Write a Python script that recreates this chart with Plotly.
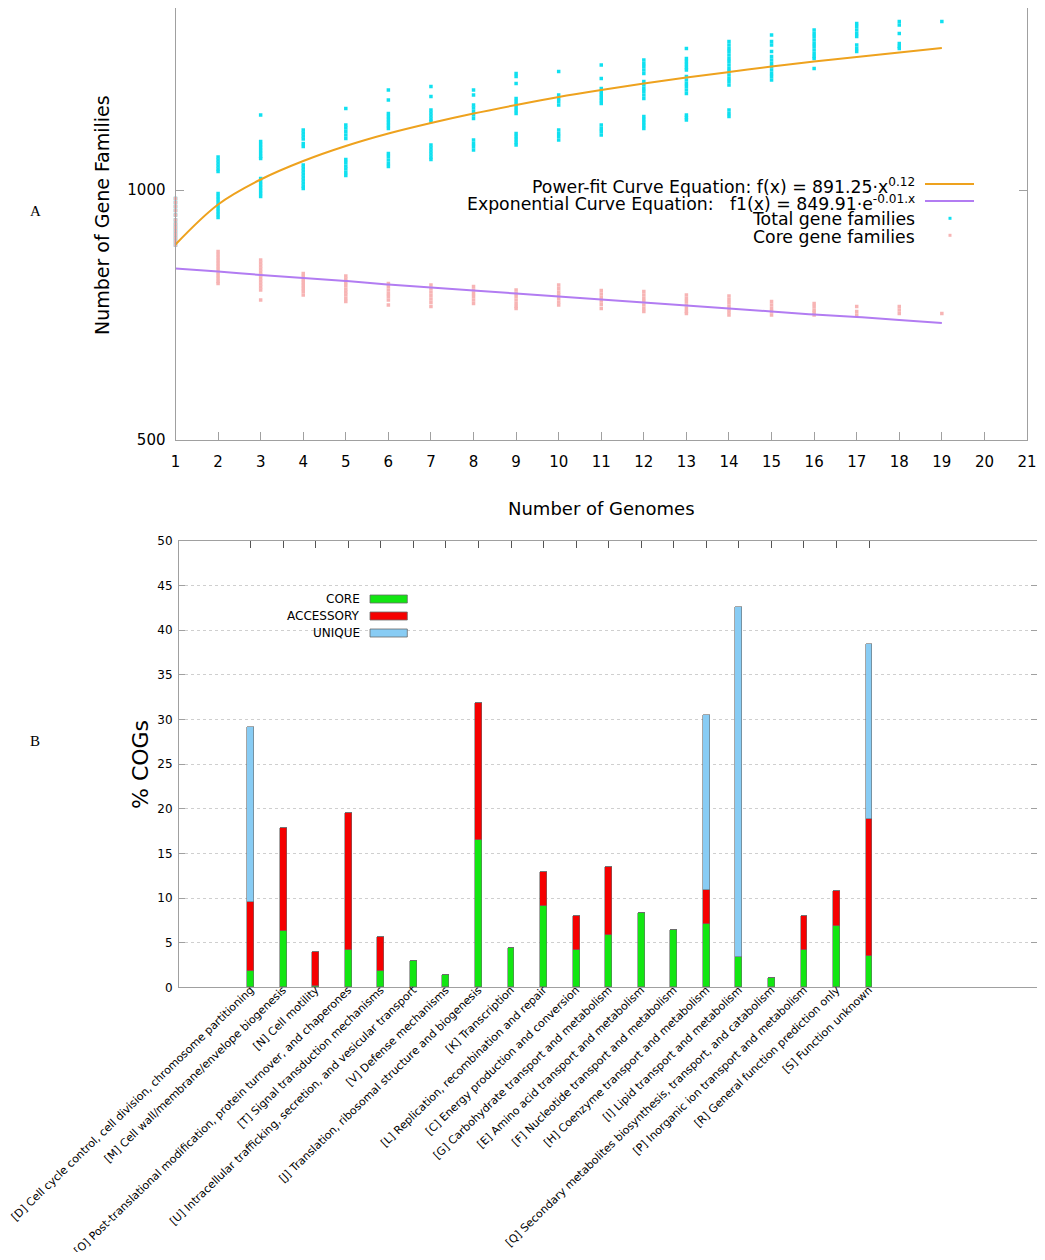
import plotly.graph_objects as go

# ---- panel A: pan-genome curves ----
genomes = list(range(1, 20))

total_families = [
    [983, 975, 967, 959, 950, 940, 932, 925, 918, 911, 904, 897, 890],
    [1066, 1060, 1054, 1048, 1042, 1037, 993, 987, 981, 975, 969, 963, 957, 951, 945],
    [1150, 1097, 1091, 1085, 1079, 1073, 1067, 1063, 1023, 1017, 1011, 1005, 999, 993, 987],
    [1120, 1114, 1108, 1102, 1093, 1087, 1050, 1044, 1038, 1032, 1026, 1020, 1014, 1008, 1003],
    [1163, 1130, 1124, 1117, 1110, 1103, 1061, 1055, 1048, 1042, 1035, 1029],
    [1200, 1180, 1153, 1147, 1141, 1135, 1129, 1123, 1073, 1067, 1060, 1053, 1047],
    [1207, 1187, 1160, 1154, 1148, 1142, 1137, 1090, 1084, 1078, 1072, 1066, 1061],
    [1200, 1190, 1170, 1164, 1157, 1150, 1143, 1100, 1093, 1087, 1080],
    [1233, 1227, 1213, 1183, 1177, 1171, 1165, 1159, 1153, 1113, 1107, 1101, 1095, 1090],
    [1237, 1190, 1183, 1177, 1170, 1120, 1113, 1107, 1100],
    [1250, 1223, 1203, 1197, 1191, 1185, 1179, 1173, 1130, 1123, 1117, 1110],
    [1260, 1253, 1247, 1240, 1233, 1217, 1210, 1203, 1197, 1190, 1183, 1147, 1141, 1135, 1129, 1123],
    [1283, 1263, 1257, 1251, 1245, 1240, 1227, 1220, 1213, 1207, 1200, 1193, 1150, 1145, 1140],
    [1297, 1290, 1283, 1277, 1270, 1263, 1257, 1250, 1243, 1237, 1230, 1223, 1217, 1210, 1160, 1153, 1147],
    [1310, 1297, 1290, 1277, 1267, 1260, 1253, 1247, 1240, 1233, 1227, 1220],
    [1320, 1313, 1307, 1300, 1293, 1287, 1280, 1273, 1267, 1263, 1243],
    [1333, 1327, 1320, 1313, 1307, 1290, 1283, 1277],
    [1337, 1330, 1313, 1293, 1287, 1283],
    [1337],
]

core_families = [
    [983, 975, 967, 959, 950, 940, 932, 925, 918, 911, 904, 897, 890],
    [877, 871, 865, 859, 853, 847, 841, 835, 829, 823, 817, 813],
    [860, 854, 848, 842, 836, 830, 824, 818, 812, 806, 800, 780],
    [833, 827, 821, 815, 809, 803, 797, 790],
    [828, 822, 815, 809, 802, 796, 790, 783, 777],
    [813, 807, 800, 793, 787, 780, 770],
    [810, 803, 796, 789, 782, 775, 767],
    [807, 800, 793, 787, 780, 773],
    [800, 793, 787, 780, 773, 767, 763],
    [810, 803, 796, 790, 783, 776, 770],
    [799, 792, 785, 778, 771, 763],
    [797, 790, 783, 777, 770, 763, 757],
    [790, 783, 777, 770, 763, 757, 753],
    [788, 781, 775, 768, 762, 756, 750],
    [777, 770, 763, 757, 750],
    [773, 767, 760, 755, 750],
    [767, 757, 750],
    [767, 760, 753],
    [753],
]

power_fit = [891, 971, 1021, 1058, 1088, 1113, 1134, 1153, 1170, 1186,
             1200, 1213, 1225, 1236, 1247, 1257, 1266, 1275, 1284]
exp_fit = [843, 837, 830, 824, 818, 811, 805, 799, 793, 787,
           781, 775, 769, 763, 757, 751, 746, 740, 734]

# ---- panel B: COG categories ----
cog_labels = [
    "[D] Cell cycle control, cell division, chromosome partitioning",
    "[M] Cell wall/membrane/envelope biogenesis",
    "[N] Cell motility",
    "[O] Post-translational modification, protein turnover, and chaperones",
    "[T] Signal transduction mechanisms",
    "[U] Intracellular trafficking, secretion, and vesicular transport",
    "[V] Defense mechanisms",
    "[J] Translation, ribosomal structure and biogenesis",
    "[K] Transcription",
    "[L] Replication, recombination and repair",
    "[C] Energy production and conversion",
    "[G] Carbohydrate transport and metabolism",
    "[E] Amino acid transport and metabolism",
    "[F] Nucleotide transport and metabolism",
    "[H] Coenzyme transport and metabolism",
    "[I] Lipid transport and metabolism",
    "[Q] Secondary metabolites biosynthesis, transport, and catabolism",
    "[P] Inorganic ion transport and metabolism",
    "[R] General function prediction only",
    "[S] Function unknown",
]
core_pct = [1.83, 6.31, 0.15, 4.14, 1.83, 2.91, 1.38, 16.5, 4.44, 9.11,
            4.14, 5.83, 8.33, 6.46, 7.06, 3.36, 1.05, 4.14, 6.91, 3.51]
accessory_pct = [7.69, 11.54, 3.85, 15.38, 3.85, 0, 0, 15.38, 0, 3.85,
                 3.85, 7.69, 0, 0, 3.85, 0, 0, 3.85, 3.85, 15.38]
unique_pct = [19.61, 0, 0, 0, 0, 0, 0, 0, 0, 0,
              0, 0, 0, 0, 19.61, 39.22, 0, 0, 0, 19.61]

# page body keeps its 8px margin, so the figure is shrunk by that on each side
PAGE_MARGIN = 8
W, H = 1045 - 2 * PAGE_MARGIN, 1260 - 2 * PAGE_MARGIN
FONT = "DejaVu Sans"
AXIS_GREY = "#a0a0a0"


def px(x):
    # window pixel -> paper fraction
    return (x - PAGE_MARGIN) / W


def py(y):
    return 1 - (y - PAGE_MARGIN) / H


tot_x, tot_y, core_x, core_y = [], [], [], []
for g, vals in zip(genomes, total_families):
    tot_x += [g] * len(vals)
    tot_y += vals
for g, vals in zip(genomes, core_families):
    core_x += [g] * len(vals)
    core_y += vals

fig = go.Figure()

fig.add_trace(go.Scatter(x=tot_x, y=tot_y, mode="markers", cliponaxis=False,
                         marker=dict(symbol="square", size=3.5, color="#10e0f0"),
                         xaxis="x", yaxis="y", showlegend=False))
fig.add_trace(go.Scatter(x=core_x, y=core_y, mode="markers", cliponaxis=False,
                         marker=dict(symbol="square", size=3.5, color="#f7b4b4"),
                         xaxis="x", yaxis="y", showlegend=False))
fig.add_trace(go.Scatter(x=genomes, y=power_fit, mode="lines",
                         line=dict(color="#eea21e", width=2, shape="spline"),
                         xaxis="x", yaxis="y", showlegend=False))
fig.add_trace(go.Scatter(x=genomes, y=exp_fit, mode="lines",
                         line=dict(color="#b27cf2", width=2, shape="spline"),
                         xaxis="x", yaxis="y", showlegend=False))

positions = list(range(len(cog_labels)))
for name, vals, col in [("CORE", core_pct, "#12e612"),
                        ("ACCESSORY", accessory_pct, "#f50000"),
                        ("UNIQUE", unique_pct, "#88ccf4")]:
    fig.add_trace(go.Bar(x=positions, y=vals, name=name, width=0.21,
                         marker=dict(color=col, line=dict(color="#6a6a6a", width=0.6)),
                         xaxis="x2", yaxis="y2", showlegend=False))

tickfont = dict(family=FONT, size=15, color="black")
fig.update_layout(
    width=W, height=H,
    margin=dict(l=0, r=0, t=0, b=0),
    paper_bgcolor="white", plot_bgcolor="white",
    barmode="stack", bargap=0,
    font=dict(family=FONT, color="black"),
    xaxis=dict(domain=[px(175.5), px(1027)], anchor="y", range=[1, 21], automargin=False,
               tickmode="linear", tick0=1, dtick=1, ticks="inside", ticklen=8,
               tickcolor=AXIS_GREY, showline=True, linecolor=AXIS_GREY, linewidth=1,
               showgrid=False, zeroline=False, tickfont=tickfont, ticklabelstandoff=8),
    yaxis=dict(domain=[py(440), 1], anchor="x", range=[500, 1364], automargin=False,
               tickvals=[500, 1000], ticks="inside", ticklen=8, tickcolor=AXIS_GREY,
               showline=True, linecolor=AXIS_GREY, linewidth=1, mirror="ticks",
               showgrid=False, zeroline=False, tickfont=tickfont, ticklabelstandoff=6),
    xaxis2=dict(domain=[px(179), 1], anchor="y2", range=[-2.2, 24.16],
                automargin=False,
                tickvals=positions, ticktext=cog_labels, tickangle=-44,
                ticks="inside", ticklen=7, tickcolor="#555555", layer="below traces",
                showline=True, linecolor=AXIS_GREY, linewidth=1, mirror="ticks",
                showgrid=False, zeroline=False, ticklabelstandoff=-9,
                tickfont=dict(family=FONT, size=11, color="black")),
    yaxis2=dict(domain=[py(987.3), py(541)], anchor="x2", range=[0, 50], automargin=False,
                tickmode="linear", tick0=0, dtick=5, ticks="inside", ticklen=6,
                tickcolor=AXIS_GREY, showline=True, linecolor=AXIS_GREY, linewidth=1,
                mirror="ticks", showgrid=True, gridcolor="#cfcfcf", griddash="dot",
                zeroline=False, tickfont=dict(family=FONT, size=12, color="black"),
                ticklabelstandoff=3),
)

ann = []
# axis titles and panel letters
ann.append(dict(x=px(102), y=py(215), text="Number of Gene Families", textangle=-90,
                font=dict(family=FONT, size=19)))
ann.append(dict(x=px(601), y=py(508), text="Number of Genomes",
                font=dict(family=FONT, size=18)))
ann.append(dict(x=px(140), y=py(765), text="% COGs", textangle=-90,
                font=dict(family=FONT, size=22)))
ann.append(dict(x=px(35), y=py(211), text="A", font=dict(family="Liberation Serif", size=15)))
ann.append(dict(x=px(35), y=py(741), text="B", font=dict(family="Liberation Serif", size=15)))

# panel A key
nb = "\u00a0"
key_a = [
    ("Power-fit Curve Equation: f(x) = 891.25·x<sup>0.12</sup>", 186),
    ("Exponential Curve Equation:" + nb * 3 + "f1(x) = 849.91·e<sup>-0.01.x</sup>", 203),
    ("Total gene families", 219),
    ("Core gene families", 237),
]
for txt, yy in key_a:
    ann.append(dict(x=px(917), y=py(yy), text=txt, xanchor="right",
                    font=dict(family=FONT, size=17.3)))

# panel B key
for txt, yy in [("CORE", 599), ("ACCESSORY", 616), ("UNIQUE", 633)]:
    ann.append(dict(x=px(362), y=py(yy), text=txt, xanchor="right",
                    font=dict(family=FONT, size=12)))

for a in ann:
    a.update(xref="paper", yref="paper", showarrow=False)
    a.setdefault("xanchor", "center")
    a.setdefault("yanchor", "middle")
fig.update_layout(annotations=ann)

shapes = [
    dict(type="line", x0=px(925), x1=px(974), y0=py(184), y1=py(184),
         line=dict(color="#eea21e", width=2)),
    dict(type="line", x0=px(925), x1=px(974), y0=py(201), y1=py(201),
         line=dict(color="#b27cf2", width=2)),
    dict(type="rect", x0=px(948.5), x1=px(951.5), y0=py(216.8), y1=py(219.8),
         fillcolor="#10e0f0", line=dict(width=0)),
    dict(type="rect", x0=px(948.5), x1=px(951.5), y0=py(233.8), y1=py(236.8),
         fillcolor="#f7b4b4", line=dict(width=0)),
]
for col, yy in [("#12e612", 599), ("#f50000", 616), ("#88ccf4", 633)]:
    shapes.append(dict(type="rect", x0=px(370), x1=px(407.3), y0=py(yy + 4), y1=py(yy - 4),
                       fillcolor=col, line=dict(color="#6a6a6a", width=0.8)))
for s in shapes:
    s.update(xref="paper", yref="paper")
fig.update_layout(shapes=shapes)

fig.write_html("out.html")
